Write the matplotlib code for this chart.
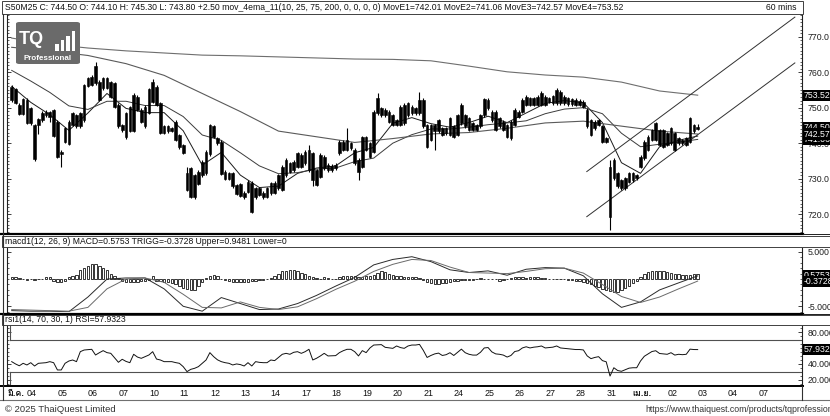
import numpy as np
import matplotlib
matplotlib.use('Agg')
import matplotlib.pyplot as plt
import matplotlib.transforms as mtransforms
from matplotlib import font_manager, ft2font
from matplotlib.lines import Line2D
from matplotlib.patches import Rectangle, FancyBboxPatch
from matplotlib.ticker import MultipleLocator

W, H = 830, 416

# 60 min candles, S50M25, 3 Mar - 2 Apr (first visible bar = index 0)
opens = [
    755.9, 755.2, 750.8, 748.2, 752.2, 749.8, 745.1, 745.1, 746.5, 747.9,
    748.9, 749.4, 746.1, 737.6, 740.4, 739.8, 745.1, 747.9, 744.8, 746.5,
    756.1, 756.4, 756.9, 757.3, 755.5, 758.3, 757.1, 756.9, 750.8, 745.1,
    741.7, 743.5, 743.5, 749.4, 749.4, 750.3, 748.6, 751.7, 755.9, 751.2,
    744.7, 743.3, 744.2, 746.1, 742.3, 739.5, 731.5, 732.9, 731.0, 728.5,
    731.0, 731.5, 736.9, 741.8, 741.4, 740.4, 732.0, 731.5, 731.5, 728.2,
    728.5, 726.1, 726.3, 728.9, 724.7, 725.4, 726.1, 724.9, 725.9, 726.1,
    727.3, 726.8, 731.0, 734.3, 732.4, 733.4, 736.7, 734.3, 738.1, 737.1,
    732.4, 730.6, 732.9, 733.9, 733.6, 732.9, 737.1, 738.1, 738.1, 740.0,
    738.1, 735.3, 733.4, 738.1, 740.0, 737.6, 748.4, 749.8, 749.4, 748.9,
    747.9, 746.5, 745.1, 745.6, 747.9, 750.3, 749.8, 748.4, 752.2, 745.1,
    740.9, 743.3, 743.3, 744.2, 742.8, 742.3, 744.7, 742.3, 745.6, 747.9,
    747.0, 745.6, 745.1, 744.7, 747.9, 749.8, 748.9, 748.9, 747.0, 746.1,
    745.1, 741.4, 745.1, 747.5, 748.9, 750.8, 752.6, 750.8, 750.8, 750.8,
    753.1, 751.7, 751.2, 751.2, 754.5, 753.1, 752.6, 752.4, 752.2, 752.0,
    751.7, 749.4, 746.5, 744.2, 745.1, 744.7, 741.4, 733.4, 730.1, 731.5,
    729.6, 727.3, 729.2, 729.6, 731.0, 733.4, 735.7, 738.1, 740.9, 740.9,
    743.7, 743.7, 742.8, 740.0, 742.8, 740.0, 740.9, 739.5, 740.4, 745.1,
    744.1]
closes = [
    752.2, 751.4, 748.2, 752.4, 745.6, 745.6, 735.5, 746.7, 748.6, 748.9,
    747.5, 742.0, 736.2, 737.0, 744.2, 746.1, 748.4, 744.7, 748.4, 756.4,
    758.3, 758.7, 761.6, 752.2, 758.3, 755.5, 753.1, 750.3, 744.8, 743.7,
    748.4, 750.3, 753.6, 753.1, 746.1, 744.8, 755.2, 757.3, 750.8, 743.0,
    743.0, 744.7, 743.5, 740.9, 738.8, 737.3, 726.8, 724.9, 724.7, 732.0,
    734.8, 737.6, 745.1, 744.7, 740.0, 731.3, 729.9, 730.0, 727.9, 725.7,
    725.1, 724.7, 729.2, 720.7, 727.3, 727.3, 724.7, 727.3, 728.7, 728.9,
    731.0, 733.4, 735.3, 732.0, 734.8, 737.1, 733.4, 737.6, 732.4, 729.6,
    728.2, 736.7, 736.2, 732.4, 732.4, 733.9, 740.4, 740.4, 740.9, 738.6,
    734.3, 732.0, 741.7, 741.7, 736.2, 748.9, 752.6, 747.9, 747.9, 746.1,
    745.1, 745.1, 750.3, 750.8, 751.2, 748.4, 748.4, 752.2, 744.7, 739.0,
    745.1, 745.1, 746.5, 742.3, 744.2, 747.0, 741.8, 747.9, 750.8, 744.7,
    743.7, 743.7, 743.7, 747.9, 752.4, 752.2, 746.5, 743.7, 744.7, 743.7,
    741.8, 746.1, 749.4, 748.9, 752.2, 753.1, 750.8, 752.6, 753.1, 754.2,
    750.8, 752.6, 753.3, 755.0, 751.2, 751.2, 751.0, 751.0, 750.8, 750.8,
    750.3, 744.7, 742.3, 746.1, 746.5, 740.4, 740.4, 719.3, 735.3, 727.8,
    727.3, 730.1, 731.5, 731.5, 730.1, 736.2, 740.4, 741.8, 743.7, 745.6,
    739.5, 739.0, 739.5, 744.2, 738.1, 741.4, 740.0, 741.4, 747.0, 743.3,
    744.5]
highs = [
    756.4, 755.6, 751.2, 752.7, 752.6, 750.2, 745.5, 747.0, 749.0, 749.3,
    749.2, 749.7, 746.4, 738.0, 744.6, 746.5, 748.8, 748.2, 748.7, 756.8,
    758.7, 759.1, 763.0, 757.7, 758.7, 758.6, 757.5, 757.3, 751.2, 745.5,
    748.8, 750.6, 754.0, 753.5, 749.8, 750.7, 755.6, 758.0, 756.3, 751.6,
    745.1, 745.0, 744.6, 746.5, 742.7, 739.9, 733.3, 733.3, 731.4, 732.4,
    735.2, 738.0, 745.5, 745.1, 741.8, 740.8, 732.4, 731.9, 731.9, 728.6,
    728.9, 726.5, 729.6, 729.3, 727.7, 727.7, 726.5, 727.7, 729.1, 729.3,
    731.4, 733.8, 735.7, 734.7, 735.2, 737.5, 737.1, 738.0, 739.5, 737.5,
    732.8, 737.1, 736.6, 734.3, 734.0, 734.3, 740.8, 740.8, 744.2, 740.4,
    738.5, 735.7, 742.1, 742.1, 740.4, 749.3, 754.0, 750.2, 749.8, 749.3,
    748.3, 746.9, 750.7, 751.2, 751.6, 750.7, 750.2, 754.5, 752.6, 745.5,
    745.5, 745.5, 746.9, 744.6, 744.6, 747.4, 745.1, 748.3, 751.2, 748.3,
    747.4, 746.0, 745.5, 748.3, 752.8, 752.6, 749.3, 749.3, 747.4, 746.5,
    745.5, 746.5, 749.8, 749.3, 752.6, 753.5, 753.0, 753.0, 753.5, 754.6,
    753.5, 753.0, 753.7, 755.4, 754.9, 753.5, 753.0, 752.8, 752.6, 752.4,
    752.1, 749.8, 746.9, 746.5, 746.9, 745.1, 741.8, 735.3, 735.7, 731.9,
    730.0, 730.5, 731.9, 731.9, 731.4, 736.6, 740.8, 742.2, 744.1, 746.0,
    744.1, 744.1, 743.2, 744.6, 743.2, 741.8, 741.3, 741.8, 747.4, 745.5,
    745.3]
lows = [
    751.7, 751.0, 747.9, 747.9, 745.3, 745.2, 735.1, 742.6, 746.1, 747.5,
    746.1, 741.7, 735.8, 733.4, 740.0, 739.4, 744.8, 744.3, 744.4, 746.1,
    755.8, 756.0, 756.5, 751.8, 755.0, 755.2, 752.7, 749.9, 744.4, 743.2,
    741.3, 743.1, 743.1, 749.0, 745.7, 744.4, 748.2, 751.3, 750.4, 742.6,
    742.6, 742.9, 743.1, 740.5, 738.4, 736.9, 726.4, 724.5, 724.3, 728.1,
    730.6, 731.1, 736.5, 741.4, 739.6, 730.9, 729.5, 729.6, 727.5, 725.3,
    724.7, 724.3, 725.9, 720.3, 724.3, 725.0, 724.3, 724.5, 725.5, 725.7,
    726.9, 726.4, 730.6, 731.6, 732.0, 733.0, 733.0, 733.9, 732.0, 727.8,
    727.8, 730.2, 732.5, 732.0, 732.0, 732.5, 736.7, 737.7, 737.7, 738.2,
    733.9, 729.6, 733.0, 737.7, 735.8, 737.2, 748.0, 747.5, 747.5, 745.7,
    744.7, 744.7, 744.7, 745.2, 747.5, 748.0, 748.0, 748.0, 744.3, 738.6,
    740.5, 738.1, 742.9, 741.9, 742.4, 741.9, 741.4, 741.9, 745.2, 744.3,
    743.3, 743.3, 743.3, 744.3, 747.5, 749.4, 746.1, 743.3, 744.3, 743.3,
    741.4, 741.0, 744.7, 747.1, 748.5, 750.4, 750.4, 750.4, 750.4, 750.4,
    750.4, 751.3, 750.8, 750.8, 750.8, 750.8, 750.6, 750.6, 750.4, 750.4,
    749.9, 744.3, 741.9, 743.8, 744.7, 740.0, 740.0, 715.5, 729.7, 727.4,
    726.9, 726.9, 728.8, 729.2, 729.7, 733.0, 735.3, 737.7, 740.5, 740.5,
    739.1, 738.6, 739.1, 739.6, 737.7, 739.6, 739.6, 739.1, 740.0, 742.9,
    743.8]

# moving averages (10/25 every 5 bars, 75/200 every 10 bars)
ema10 = [756.0, 751.5, 748.0, 743.6, 748.5, 754.0, 749.8, 748.6, 748.6, 743.5,
         733.8, 737.4, 731.0, 727.5, 727.9, 731.5, 733.0, 733.6, 737.3, 738.8,
         745.6, 747.2, 745.5, 744.5, 745.8, 747.6, 745.8, 748.5, 751.2, 752.0,
         751.4, 745.8, 734.5, 731.5, 739.0, 740.8, 742.01]
ema25 = [760.5, 757.5, 754.3, 750.5, 749.5, 751.8, 751.8, 750.6, 750.6, 747.5,
         742.3, 740.8, 737.3, 733.6, 731.4, 731.7, 732.7, 733.0, 734.8, 735.8,
         740.0, 742.4, 744.0, 744.0, 744.5, 745.2, 745.7, 746.3, 748.3, 749.6,
         750.0, 748.3, 742.8, 739.0, 739.7, 740.3, 741.06]
ema75 = [767.0, 766.0, 764.7, 762.4, 759.1, 754.0, 748.9, 743.4, 741.8, 740.2,
         741.3, 742.6, 743.0, 744.2, 745.7, 746.2, 744.8, 743.4, 742.57]
ema200 = [769.6, 767.9, 766.8, 766.0, 765.4, 764.8, 764.6, 764.3, 764.0, 763.7,
          763.6, 763.2, 761.7, 760.1, 759.2, 758.6, 757.2, 754.7, 753.52]

# hand drawn channel (bar index, price)
trend_x = [150.9, 205.5]
trend_upper = [732.0, 775.5]
trend_lower = [719.3, 762.6]

# MACD(12,26,9), lines every 5 bars, histogram per bar
macd_line = [-5.8, -5.9, -5.9, -6.0, -3.3, 0.0, 0.2, 0.2, -1.8, -5.0,
             -5.9, -3.4, -4.5, -5.6, -5.5, -4.5, -3.0, -1.3, 0.3, 2.6,
             3.6, 4.1, 3.2, 1.7, 1.2, 1.5, 0.7, 1.8, 2.1, 2.0,
             0.6, -2.7, -5.2, -4.2, -2.0, -0.7, 0.5753]
trigg_line = [-5.6, -5.7, -5.8, -5.9, -5.2, -1.8, 0.0, 0.2, -0.6, -2.8,
              -5.2, -5.3, -4.2, -5.2, -5.6, -5.1, -3.6, -1.9, -0.4, 1.4,
              2.7, 3.6, 3.4, 2.2, 1.2, 1.1, 1.0, 1.4, 1.9, 2.0,
              1.1, -1.0, -3.2, -4.3, -3.3, -1.8, -0.3728]
macd_hist = [
    0.3, 0.3, 0.2, 0.1, -0.1, 0.1, -0.1, 0.1, 0.1, 0.3,
    0.3, -0.3, -0.5, -0.5, -0.3, 0.4, 0.6, 0.8, 1.6, 2.0,
    2.4, 2.7, 2.7, 2.4, 2.1, 1.6, 1.0, 0.6, 0.2, -0.3,
    -0.5, -0.6, -0.6, -0.5, -0.4, -0.3, -0.2, 0.6, -0.3, -0.4,
    -0.5, -0.6, -0.8, -1.0, -1.3, -1.6, -1.9, -2.1, -2.0, -1.2,
    -0.6, 0.2, 0.5, 0.8, 0.6, 0.1, -0.1, -0.3, -0.5, -0.6,
    -0.6, -0.6, -0.5, -0.4, -0.3, -0.2, -0.1, 0.0, 0.2, 0.5,
    0.9, 1.4, 1.5, 1.6, 1.6, 1.5, 1.2, 0.9, 0.6, 0.3,
    0.2, 0.1, 0.3, 0.2, 0.1, 0.1, 0.3, 0.5, 0.6, 0.5,
    0.6, 0.4, 0.4, 0.5, 0.6, 0.8, 1.1, 1.5, 1.3, 1.0,
    0.8, 0.6, 0.5, 0.4, 0.4, 0.3, 0.3, 0.2, -0.2, -0.6,
    -0.8, -0.9, -0.9, -0.8, -0.7, -0.6, -0.4, -0.3, -0.2, -0.2,
    -0.1, -0.1, 0.1, 0.2, 0.1, 0.0, 0.0, 0.0, -0.3, -0.2,
    0.1, 0.2, 0.3, 0.3, 0.3, 0.2, 0.3, 0.3, 0.3, 0.2,
    0.2, 0.1, 0.1, 0.0, 0.0, 0.0, -0.1, -0.2, -0.3, -0.4,
    -0.6, -0.8, -1.0, -1.2, -1.5, -1.8, -2.1, -2.2, -2.4, -2.3,
    -2.0, -1.6, -1.2, -0.8, -0.4, 0.3, 0.9, 1.3, 1.5, 1.5,
    1.5, 1.4, 1.3, 1.2, 1.0, 0.9, 0.8, 0.7, 0.8, 0.9,
    0.9481]

rsi = [
    42.7, 39.8, 37.5, 40.6, 38.5, 41.4, 37.2, 40.6, 41.0, 41.4,
    42.7, 41.4, 32.2, 32.2, 40.6, 43.5, 44.8, 42.7, 55.3, 57.4,
    57.8, 58.3, 51.1, 54.0, 56.6, 54.1, 53.2, 47.5, 41.9, 45.7,
    43.0, 41.4, 52.0, 48.5, 46.9, 49.0, 51.1, 55.3, 46.0, 44.8,
    42.7, 42.7, 42.7, 41.5, 40.6, 36.4, 30.1, 33.0, 34.3, 36.4,
    40.6, 44.8, 54.1, 49.0, 45.0, 42.7, 41.4, 40.6, 38.5, 39.8,
    39.0, 37.2, 41.4, 37.2, 42.7, 41.8, 41.4, 41.4, 44.8, 44.0,
    48.0, 52.0, 53.2, 52.0, 54.5, 55.3, 53.2, 55.3, 58.3, 44.8,
    47.0, 49.9, 53.2, 49.9, 50.1, 50.3, 54.1, 56.5, 58.3, 58.3,
    55.3, 49.9, 56.6, 54.1, 60.0, 63.7, 64.0, 64.2, 60.8, 60.2,
    59.5, 62.5, 60.5, 59.5, 62.5, 63.7, 63.7, 64.5, 57.0, 48.0,
    50.5, 52.5, 53.5, 50.5, 51.5, 54.0, 50.5, 54.5, 58.5, 54.0,
    52.0, 51.0, 51.0, 54.5, 60.0, 60.5, 55.0, 52.5, 52.0, 51.0,
    48.5, 50.5, 55.5, 56.5, 60.0, 61.5, 60.0, 61.0, 61.5, 62.5,
    60.0, 60.5, 61.0, 62.5, 60.0, 59.5, 59.0, 58.5, 58.0, 58.0,
    57.5, 50.0, 46.5, 48.0, 49.0, 44.0, 42.5, 24.5, 35.0, 31.5,
    30.5, 32.5, 34.5, 35.0, 35.0, 43.5, 49.5, 52.5, 55.5, 56.5,
    53.0, 52.5, 52.0, 54.0, 51.0, 52.0, 51.5, 52.0, 58.5, 58.0,
    57.93]

day_labels = ['04', '05', '06', '07', '10', '11', '12', '13', '14', '17',
              '18', '19', '20', '21', '24', '25', '26', '27', '28', '31',
              'เม.ย.', '02', '03', '04', '07']
first_month = 'มี.ค.'

price_ticks = [720, 730, 740, 750, 760, 770]
macd_ticks = [-5, 5]
rsi_ticks = [20, 40, 80]

header_main = ('S50M25 C: 744.50 O: 744.10 H: 745.30 L: 743.80 +2.50 '
               'mov_4ema_11(10, 25, 75, 200, 0, 0, 0, 0) MovE1=742.01 '
               'MovE2=741.06 MovE3=742.57 MovE4=753.52')
header_macd = 'macd1(12, 26, 9) MACD=0.5753 TRIGG=-0.3728 Upper=0.9481 Lower=0'
header_rsi = 'rsi1(14, 70, 30, 1) RSI=57.9323'

BARS_PER_DAY = 8
FONT = 'Liberation Sans'
RSI_LO, RSI_HI = 13.2, 89.0


def px_rect(l, t, r, b):
    return [l / W, 1 - b / H, (r - l) / W, (b - t) / H]


def fig_line(fig, x0, x1, y0, y1, lw=1.0, color='#202020'):
    fig.add_artist(Line2D([x0 / W, x1 / W], [1 - y0 / H, 1 - y1 / H],
                          transform=fig.transFigure, lw=lw, color=color))


def fig_box(fig, l, t, r, b, lw=0.7, ec='#404040', fc='white'):
    fig.add_artist(Rectangle((l / W, 1 - b / H), (r - l) / W, (b - t) / H,
                             transform=fig.transFigure, fc=fc, ec=ec, lw=lw))


def fig_text(fig, x, y, s, **kw):
    kw.setdefault('fontsize', 6.2)
    kw.setdefault('va', 'center')
    kw.setdefault('color', '#111111')
    kw.setdefault('family', [FONT, 'DejaVu Sans'])
    return fig.text(x / W, 1 - y / H, s, **kw)


def find_thai_font():
    for f in font_manager.fontManager.ttflist:
        try:
            if 0x0E21 in ft2font.FT2Font(f.fname).get_charmap():
                return f.name
        except Exception:
            continue
    return None


def style_panel(ax, minor):
    for side in ['top', 'bottom']:
        ax.spines[side].set_visible(False)
    for side in ['left', 'right']:
        ax.spines[side].set_linewidth(0.8)
        ax.spines[side].set_color('#202020')
    ax.set_xticks([])
    ax.yaxis.set_minor_locator(MultipleLocator(minor))
    ax.tick_params(axis='y', which='both', left=True, right=True, direction='in',
                   labelleft=False, labelright=True, labelsize=6.3, pad=4,
                   colors='#202020')
    ax.tick_params(axis='y', which='major', length=3, width=0.6)
    ax.tick_params(axis='y', which='minor', length=1.6, width=0.5)
    for lab in ax.get_yticklabels():
        lab.set_family([FONT, 'DejaVu Sans'])


def value_box(ax, y, s):
    tr = mtransforms.blended_transform_factory(ax.transAxes, ax.transData)
    ax.text(1.002, y, s, transform=tr, ha='left', va='center', fontsize=6.3,
            color='white', family=[FONT, 'DejaVu Sans'], clip_on=False, zorder=10,
            bbox=dict(boxstyle='square,pad=0.12', fc='black', ec='none'))


def main():
    n = len(closes)
    x = np.arange(n)
    xlim = ((7 - 11.7) / 3.811, (802 - 11.7) / 3.811)

    fig = plt.figure(figsize=(W / 100, H / 100), dpi=100)
    fig.patch.set_facecolor('white')

    # ---- price panel
    ax = fig.add_axes(px_rect(7, 15, 802, 233))
    o = np.array(opens)
    c = np.array(closes)
    top = np.maximum(o, c)
    bot = np.minimum(o, c)
    ax.vlines(x, lows, highs, color='black', lw=0.8, zorder=3)
    ax.bar(x, top - bot, bottom=bot, width=0.7, color='black',
           edgecolor='black', lw=0.4, zorder=4)

    fast_x = np.arange(len(ema10)) * 5
    slow_x = np.arange(len(ema75)) * 10
    ax.plot(fast_x, ema10, color='#1a1a1a', lw=0.7, zorder=2)
    ax.plot(fast_x, ema25, color='#3c3c3c', lw=0.7, zorder=2)
    ax.plot(slow_x, ema75, color='#5a5a5a', lw=0.8, zorder=2)
    ax.plot(slow_x, ema200, color='#6e6e6e', lw=0.8, zorder=2)
    ax.plot(trend_x, trend_upper, color='#303030', lw=0.7, zorder=2)
    ax.plot(trend_x, trend_lower, color='#303030', lw=0.7, zorder=2)

    ax.set_xlim(*xlim)
    ax.set_ylim(714.7, 776.1)
    ax.set_yticks(price_ticks)
    ax.set_yticklabels(['%.1f' % v for v in price_ticks])
    style_panel(ax, 1)
    value_box(ax, 753.52, '753.52')
    value_box(ax, 744.50, '744.50')
    value_box(ax, 741.06, '741.06')
    value_box(ax, 742.57, '742.57')

    # ---- MACD panel
    axm = fig.add_axes(px_rect(7, 248, 802, 312))
    axm.bar(x, macd_hist, width=0.62, color='white', edgecolor='black', lw=0.55, zorder=3)
    axm.plot(fast_x, macd_line, color='#2a2a2a', lw=0.7, zorder=4)
    axm.plot(fast_x, trigg_line, color='#6a6a6a', lw=0.7, zorder=4)
    axm.set_xlim(*xlim)
    axm.set_ylim(-6.05, 5.7)
    axm.set_yticks(macd_ticks)
    axm.set_yticklabels(['%.3f' % v for v in macd_ticks])
    style_panel(axm, 1)
    value_box(axm, 0.5753, '0.5753')
    value_box(axm, -0.3728, '-0.3728')

    # ---- RSI panel
    axr = fig.add_axes(px_rect(7, 325, 802, 385))
    axr.plot(x, rsi, color='#111111', lw=0.7, zorder=3)
    axr.set_xlim(*xlim)
    axr.set_ylim(RSI_LO, RSI_HI)
    span = RSI_HI - RSI_LO
    edge = 3 / 795
    axr.axhline(70, xmin=edge, xmax=1, color='#505050', lw=0.8)
    axr.axhline(30, xmin=edge, xmax=1, color='#505050', lw=0.8)
    axr.axvline(xlim[0] + 3 / 3.811, ymin=(70 - RSI_LO) / span, ymax=1, color='#505050', lw=0.8)
    axr.axvline(xlim[0] + 3 / 3.811, ymin=0, ymax=(30 - RSI_LO) / span, color='#505050', lw=0.8)
    axr.set_yticks(rsi_ticks)
    axr.set_yticklabels(['%.3f' % v for v in rsi_ticks])
    style_panel(axr, 5)
    value_box(axr, 57.93, '57.9323')

    # ---- date strip
    axd = fig.add_axes(px_rect(7, 387, 802, 399))
    axd.set_xlim(*xlim)
    axd.set_ylim(0, 1)
    axd.axis('off')
    thai = find_thai_font()
    thai_fam = [thai, 'DejaVu Sans'] if thai else ['DejaVu Sans']
    axd.text(0.0, 0.5, first_month, transform=axd.transAxes, ha='left', va='center',
             fontsize=6.4, fontweight='bold', family=thai_fam, color='#111111')
    for k, lab in enumerate(day_labels, start=1):
        pos = BARS_PER_DAY * k - 2.7
        is_month = not lab.isdigit()
        axd.text(pos, 0.5, lab, ha='center', va='center', fontsize=6.4,
                 fontweight='bold' if is_month else 'normal',
                 family=thai_fam if is_month else [FONT, 'DejaVu Sans'], color='#111111')

    # ---- frames, separators, headers
    fig_box(fig, 2, 1, 803, 14)
    fig_text(fig, 5, 7.8, header_main)
    fig_text(fig, 766, 7.8, '60 mins')
    fig_line(fig, 0, 803, 234, 234, lw=1.6, color='black')
    fig_line(fig, 803, 830, 234, 234, lw=0.7)
    fig_box(fig, 2, 236, 830, 247)
    fig_text(fig, 5, 241.5, header_macd)
    fig_line(fig, 0, 803, 313.5, 313.5, lw=1.6, color='black')
    fig_line(fig, 803, 830, 313.5, 313.5, lw=0.7)
    fig_box(fig, 2, 315, 830, 324.5)
    fig_text(fig, 5, 319.5, header_rsi)
    fig_line(fig, 0, 803, 386, 386, lw=1.4, color='black')
    fig_line(fig, 0, 830, 400, 400, lw=0.8, color='#707070')
    fig_line(fig, 3, 3, 14, 400, lw=0.8, color='#303030')
    fig_line(fig, 802, 802, 386, 400, lw=0.8, color='#303030')

    fig_text(fig, 5, 409, '© 2025 ThaiQuest Limited', fontsize=6.8, color='#333333')
    fig_text(fig, 645, 409, 'https://www.thaiquest.com/products/tqprofessional',
             fontsize=6.3, color='#333333')

    # ---- logo
    fig.add_artist(FancyBboxPatch((16 / W, 1 - 64 / H), 64 / W, 42 / H,
                                  boxstyle='round,pad=0,rounding_size=0.004',
                                  transform=fig.transFigure, fc='#6a6a6a', ec='none'))
    fig_text(fig, 19, 40, 'TQ', fontsize=13, fontweight='bold', color='white')
    for i, hgt in enumerate([7, 11, 15, 20]):
        fig.add_artist(Rectangle(((55 + i * 5.5) / W, 1 - 51 / H), 3.5 / W, hgt / H,
                                 transform=fig.transFigure, fc='white', ec='none'))
    fig_text(fig, 48, 58.5, 'Professional', fontsize=5.8, fontweight='bold',
             color='white', ha='center')

    fig.savefig('out.png', dpi=100, facecolor='white')


if __name__ == '__main__':
    main()
